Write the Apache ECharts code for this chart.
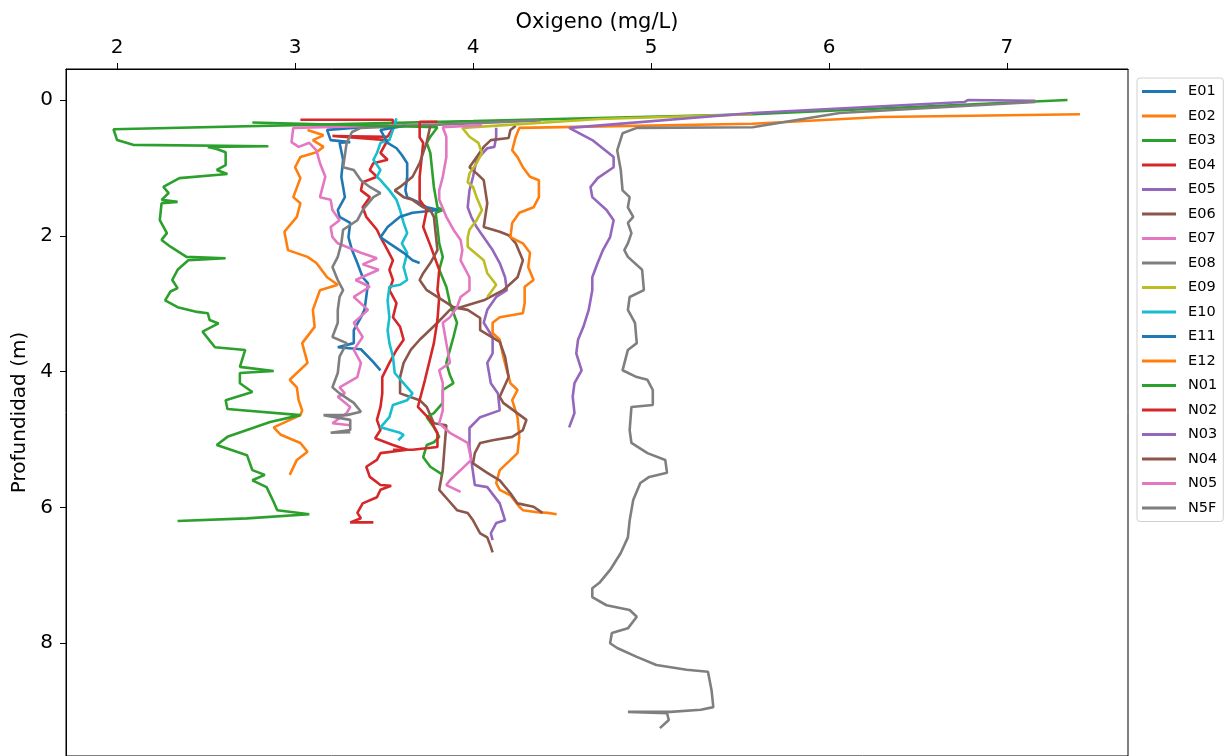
<!DOCTYPE html>
<html>
<head>
<meta charset="utf-8">
<script src="https://cdn.jsdelivr.net/npm/echarts@6/dist/echarts.min.js"></script>
<style>
html,body{margin:0;padding:0;background:#fff;}
#chart{width:1227px;height:756px;}
</style>
</head>
<body>
<div id="chart"></div>
<script>
// ---- data: [oxygen mg/L, depth m] ----
const seriesNames = ['E01','E02','E03','E04','E05','E06','E07','E08','E09','E10','E11','E12','N01','N02','N03','N04','N05','N5F'];
const xTicks = [2,3,4,5,6,7];
const yTicks = [0,2,4,6,8];

const e01 = [[3.12,0.37],[3.53,0.37],[3.18,0.44],[3.20,0.59],[3.31,0.62],[3.25,0.63],[3.27,0.88],[3.26,1.13],[3.28,1.43],[3.24,1.62],[3.25,1.72],[3.31,1.81],[3.30,2.02],[3.32,2.21],[3.35,2.40],[3.38,2.61],[3.41,2.70],[3.40,2.90],[3.39,3.09],[3.37,3.20],[3.33,3.39],[3.33,3.58],[3.24,3.64],[3.37,3.67],[3.44,3.86],[3.48,3.98]];
const e02 = [[3.07,0.44],[3.16,0.52],[3.10,0.59],[3.16,0.69],[3.12,0.77],[3.03,0.84],[3.00,0.99],[3.03,1.15],[3.01,1.29],[2.99,1.43],[3.03,1.52],[3.01,1.72],[2.94,1.94],[2.96,2.21],[3.07,2.31],[3.12,2.40],[3.18,2.61],[3.24,2.72],[3.14,2.80],[3.10,3.09],[3.11,3.34],[3.04,3.58],[3.07,3.87],[2.97,4.12],[3.01,4.23],[3.02,4.42],[3.04,4.57],[3.03,4.64],[2.88,4.82],[2.92,4.93],[3.03,5.05],[3.07,5.18],[3.01,5.30],[2.97,5.52]];
const e03 = [[7.34,0.00],[5.57,0.21],[4.00,0.31],[1.98,0.43],[2.00,0.59],[2.09,0.66],[2.85,0.68],[2.51,0.69],[2.56,0.72],[2.61,0.77],[2.61,0.96],[2.56,1.03],[2.62,1.09],[2.35,1.15],[2.26,1.28],[2.29,1.37],[2.25,1.47],[2.34,1.50],[2.25,1.52],[2.24,1.77],[2.28,1.96],[2.25,2.06],[2.30,2.16],[2.39,2.31],[2.61,2.33],[2.40,2.36],[2.34,2.50],[2.31,2.65],[2.34,2.77],[2.30,2.82],[2.27,2.95],[2.34,3.05],[2.45,3.12],[2.51,3.14],[2.52,3.24],[2.57,3.29],[2.51,3.37],[2.48,3.41],[2.55,3.64],[2.72,3.68],[2.69,3.93],[2.88,3.99],[2.69,4.02],[2.69,4.17],[2.76,4.30],[2.61,4.42],[2.62,4.55],[3.03,4.64],[2.86,4.74],[2.62,4.96],[2.56,5.08],[2.73,5.23],[2.76,5.45],[2.83,5.52],[2.76,5.60],[2.84,5.70],[2.88,5.92],[2.90,6.04],[3.08,6.10],[2.73,6.16],[2.34,6.20]];
const e04 = [[3.03,0.29],[3.55,0.29],[3.55,0.41],[3.52,0.54],[3.21,0.53],[3.52,0.59],[3.48,0.78],[3.52,0.88],[3.44,0.93],[3.42,1.03],[3.46,1.13],[3.38,1.21],[3.37,1.33],[3.42,1.43],[3.38,1.58],[3.40,1.72],[3.46,1.91],[3.48,2.02],[3.52,2.21],[3.55,2.36],[3.53,2.50],[3.55,2.65],[3.53,2.80],[3.57,2.99],[3.55,3.20],[3.59,3.34],[3.61,3.53],[3.57,3.68],[3.53,3.87],[3.49,4.08],[3.49,4.32],[3.48,4.52],[3.46,4.71],[3.48,4.86],[3.45,4.98],[3.55,5.08],[3.63,5.15],[3.48,5.20],[3.46,5.30],[3.40,5.40],[3.42,5.55],[3.48,5.67],[3.54,5.68],[3.48,5.74],[3.46,5.85],[3.38,5.94],[3.35,6.08],[3.37,6.16],[3.31,6.22],[3.44,6.22]];
const e05 = [[4.13,0.41],[4.13,0.54],[4.12,0.69],[4.08,0.71],[4.02,0.88],[4.00,1.13],[3.98,1.33],[3.97,1.58],[3.99,1.72],[4.02,1.87],[4.06,2.02],[4.11,2.21],[4.15,2.40],[4.18,2.61],[4.19,2.80],[4.13,2.90],[4.08,3.09],[4.06,3.28],[4.11,3.49],[4.11,3.73],[4.08,3.87],[4.10,4.17],[4.14,4.32],[4.15,4.57],[4.04,4.67],[3.98,4.83],[3.98,5.11],[3.99,5.30],[4.01,5.67],[4.08,5.70],[4.15,5.94],[4.18,6.19],[4.13,6.23],[4.10,6.38],[4.11,6.48]];
const e06 = [[4.24,0.38],[4.21,0.44],[4.20,0.56],[4.10,0.59],[4.06,0.69],[3.98,0.99],[4.02,1.08],[4.06,1.18],[4.08,1.52],[4.06,1.87],[4.15,1.94],[4.20,1.99],[4.24,2.11],[4.28,2.36],[4.25,2.61],[4.17,2.80],[4.06,2.95],[3.93,3.05],[3.87,3.09],[3.80,3.28],[3.74,3.43],[3.70,3.53],[3.65,3.68],[3.61,3.87],[3.59,4.08],[3.59,4.32],[3.70,4.42],[3.74,4.52],[3.78,4.76],[3.85,4.79],[3.84,5.11],[3.83,5.45],[3.81,5.74],[3.86,5.89],[3.91,6.04],[3.97,6.08],[4.00,6.19],[4.04,6.38],[4.08,6.44],[4.10,6.58],[4.11,6.66]];
const e07 = [[3.75,0.36],[2.99,0.41],[2.98,0.62],[3.02,0.69],[3.08,0.63],[3.12,0.74],[3.14,0.93],[3.17,1.13],[3.14,1.43],[3.20,1.47],[3.21,1.62],[3.25,1.77],[3.20,1.87],[3.21,2.02],[3.24,2.11],[3.37,2.25],[3.46,2.33],[3.38,2.42],[3.47,2.50],[3.34,2.65],[3.42,2.75],[3.33,2.90],[3.41,3.09],[3.33,3.28],[3.38,3.49],[3.33,3.68],[3.37,3.87],[3.35,4.08],[3.25,4.23],[3.28,4.32],[3.24,4.37],[3.31,4.52],[3.29,4.61],[3.21,4.76],[3.31,4.79]];
const e08 = [[4.38,0.30],[3.37,0.41],[3.32,0.47],[3.29,0.63],[3.27,0.99],[3.33,1.03],[3.37,1.18],[3.42,1.28],[3.48,1.37],[3.44,1.43],[3.38,1.62],[3.35,1.77],[3.31,1.84],[3.27,1.91],[3.26,2.11],[3.24,2.31],[3.21,2.46],[3.24,2.65],[3.27,2.80],[3.25,2.90],[3.24,3.09],[3.24,3.28],[3.21,3.49],[3.29,3.58],[3.25,3.78],[3.24,4.02],[3.21,4.23],[3.25,4.32],[3.33,4.46],[3.37,4.59],[3.29,4.64],[3.16,4.64],[3.31,4.71],[3.31,4.86],[3.20,4.90],[3.31,4.89]];
const e09 = [[5.57,0.21],[4.71,0.28],[3.94,0.41],[3.98,0.54],[4.03,0.63],[4.05,0.78],[4.02,0.93],[3.98,1.08],[3.97,1.21],[4.00,1.28],[4.02,1.43],[4.05,1.62],[4.02,1.77],[3.98,1.91],[3.97,2.02],[3.97,2.16],[4.06,2.36],[4.08,2.55],[4.11,2.65],[4.13,2.72],[4.10,2.83],[4.08,2.90]];
const e10 = [[3.57,0.27],[3.55,0.44],[3.53,0.59],[3.48,0.63],[3.46,0.78],[3.44,0.88],[3.48,1.03],[3.46,1.13],[3.48,1.18],[3.53,1.33],[3.57,1.47],[3.59,1.62],[3.61,1.81],[3.63,1.96],[3.60,2.11],[3.63,2.25],[3.61,2.46],[3.63,2.65],[3.59,2.72],[3.53,2.75],[3.52,2.95],[3.53,3.20],[3.52,3.39],[3.53,3.58],[3.55,3.78],[3.56,4.02],[3.63,4.23],[3.66,4.32],[3.63,4.42],[3.55,4.49],[3.53,4.67],[3.48,4.82],[3.59,4.90],[3.61,4.93],[3.58,5.01]];
const e11 = [[3.62,0.38],[3.48,0.44],[3.52,0.63],[3.57,0.71],[3.60,0.81],[3.63,0.93],[3.63,1.13],[3.62,1.33],[3.63,1.43],[3.69,1.50],[3.74,1.58],[3.81,1.62],[3.66,1.66],[3.59,1.72],[3.52,1.87],[3.48,2.02],[3.53,2.11],[3.61,2.25],[3.66,2.36],[3.70,2.40]];
const e12 = [[7.41,0.21],[6.29,0.25],[5.57,0.35],[4.26,0.41],[4.24,0.54],[4.22,0.74],[4.25,0.84],[4.28,0.99],[4.32,1.13],[4.37,1.18],[4.37,1.43],[4.34,1.58],[4.26,1.66],[4.22,1.81],[4.21,2.02],[4.24,2.06],[4.28,2.11],[4.32,2.25],[4.31,2.46],[4.34,2.65],[4.29,2.75],[4.29,2.99],[4.28,3.14],[4.15,3.20],[4.11,3.28],[4.11,3.43],[4.15,3.53],[4.17,3.78],[4.19,3.98],[4.21,4.17],[4.25,4.27],[4.22,4.42],[4.25,4.67],[4.26,4.96],[4.25,5.20],[4.19,5.35],[4.15,5.45],[4.13,5.64],[4.15,5.74],[4.21,5.82],[4.26,5.99],[4.28,6.04],[4.36,6.07],[4.42,6.08],[4.47,6.10]];
const n01 = [[2.76,0.33],[3.80,0.40],[3.76,0.54],[3.74,0.63],[3.76,0.78],[3.77,1.03],[3.78,1.28],[3.80,1.58],[3.83,1.62],[3.79,1.66],[3.80,1.87],[3.81,2.11],[3.83,2.31],[3.81,2.50],[3.85,2.75],[3.87,2.99],[3.91,3.28],[3.89,3.49],[3.87,3.68],[3.85,3.87],[3.87,4.05],[3.89,4.17],[3.83,4.27],[3.83,4.46],[3.78,4.61],[3.74,4.67],[3.78,4.82],[3.81,4.96],[3.78,5.04],[3.74,5.08],[3.72,5.26],[3.76,5.40],[3.83,5.52]];
const n02 = [[3.80,0.32],[3.70,0.32],[3.70,0.55],[3.72,0.63],[3.70,1.13],[3.70,1.47],[3.74,1.62],[3.72,1.87],[3.76,2.14],[3.81,2.50],[3.80,2.80],[3.81,2.90],[3.80,3.24],[3.78,3.58],[3.73,4.12],[3.69,4.52],[3.76,4.71],[3.80,4.90],[3.80,5.11],[3.66,5.15],[3.55,5.15]];
const n03 = [[7.16,0.01],[6.78,0.00],[6.76,0.03],[5.57,0.19],[4.54,0.41],[4.67,0.59],[4.79,0.84],[4.79,0.99],[4.70,1.15],[4.66,1.28],[4.67,1.43],[4.75,1.62],[4.79,1.77],[4.77,2.02],[4.73,2.21],[4.70,2.40],[4.67,2.61],[4.67,2.80],[4.65,3.09],[4.62,3.34],[4.59,3.53],[4.58,3.73],[4.61,3.98],[4.57,4.17],[4.56,4.37],[4.57,4.61],[4.54,4.82]];
const n04 = [[3.76,0.38],[3.74,0.62],[3.70,0.93],[3.66,1.13],[3.59,1.28],[3.56,1.33],[3.61,1.43],[3.66,1.47],[3.72,1.58],[3.76,1.62],[3.78,1.72],[3.80,2.21],[3.76,2.40],[3.72,2.55],[3.70,2.65],[3.74,2.80],[3.80,2.90],[3.89,3.05],[3.97,3.09],[4.04,3.21],[4.04,3.39],[4.15,3.56],[4.18,3.78],[4.20,4.08],[4.15,4.37],[4.17,4.46],[4.30,4.71],[4.28,4.86],[4.22,4.96],[4.11,5.01],[4.04,5.05],[4.01,5.20],[4.00,5.35],[4.08,5.49],[4.15,5.60],[4.21,5.79],[4.25,5.94],[4.34,5.99],[4.39,6.08]];
const n05 = [[4.05,0.37],[3.83,0.40],[3.85,0.54],[3.85,0.84],[3.83,1.13],[3.81,1.33],[3.81,1.47],[3.85,1.72],[3.89,1.91],[3.93,2.06],[3.94,2.21],[3.93,2.36],[3.98,2.61],[3.98,2.80],[3.93,2.90],[3.91,3.05],[3.87,3.20],[3.83,3.28],[3.85,3.58],[3.87,3.87],[3.81,3.98],[3.83,4.17],[3.83,4.37],[3.83,4.57],[3.81,4.76],[3.87,4.90],[3.97,5.05],[3.99,5.30],[3.93,5.45],[3.87,5.60],[3.85,5.67],[3.93,5.77]];
const n5f = [[7.16,0.03],[6.06,0.19],[5.57,0.40],[4.92,0.41],[4.84,0.49],[4.81,0.74],[4.83,1.03],[4.84,1.33],[4.88,1.43],[4.87,1.58],[4.90,1.72],[4.87,1.81],[4.89,1.96],[4.87,2.11],[4.85,2.21],[4.87,2.31],[4.95,2.50],[4.96,2.80],[4.88,2.90],[4.87,3.09],[4.91,3.28],[4.92,3.58],[4.87,3.68],[4.84,3.98],[4.92,4.08],[4.98,4.12],[5.01,4.27],[5.01,4.49],[4.89,4.52],[4.88,4.86],[4.89,5.05],[4.98,5.20],[5.08,5.30],[5.09,5.49],[4.99,5.55],[4.94,5.64],[4.90,5.89],[4.88,6.19],[4.87,6.44],[4.83,6.67],[4.77,6.92],[4.71,7.11],[4.67,7.19],[4.67,7.32],[4.75,7.44],[4.88,7.51],[4.92,7.61],[4.87,7.78],[4.78,7.85],[4.77,8.00],[4.81,8.07],[4.92,8.20],[5.03,8.32],[5.20,8.39],[5.32,8.42],[5.34,8.69],[5.35,8.94],[5.28,8.98],[5.11,9.01],[4.87,9.01],[5.09,9.03],[5.10,9.13],[5.05,9.25]];

const seriesData = [e01,e02,e03,e04,e05,e06,e07,e08,e09,e10,e11,e12,n01,n02,n03,n04,n05,n5f];
const palette = ['#1f77b4','#ff7f0e','#2ca02c','#d62728','#9467bd','#8c564b','#e377c2','#7f7f7f','#bcbd22','#17becf','#1f77b4','#ff7f0e','#2ca02c','#d62728','#9467bd','#8c564b','#e377c2','#7f7f7f'];

const FONT = 'DejaVu Sans';
const chart = echarts.init(document.getElementById('chart'), null, {renderer:'canvas'});
chart.setOption({
  animation: false,
  backgroundColor: '#fff',
  textStyle: {fontFamily: FONT},
  grid: {left: 66, right: 99, top: 69, bottom: -1, show: true, borderColor: '#000', borderWidth: 1, backgroundColor: 'transparent'},
  legend: {
    orient: 'vertical', left: 1137, top: 78,
    padding: [6, 6, 6, 5],
    itemWidth: 34, itemHeight: 3, itemGap: 9.5,
    icon: 'rect',
    data: seriesNames,
    textStyle: {fontSize: 14.5, color: '#000', fontFamily: FONT, lineHeight: 14, padding: [0,0,0,7]},
    borderColor: '#d0d0d0', borderWidth: 1, borderRadius: 3, backgroundColor: '#fff'
  },
  xAxis: {
    type: 'value', position: 'top', min: 1.713, max: 7.68,
    name: 'Oxigeno (mg/L)', nameLocation: 'middle', nameGap: 32,
    nameTextStyle: {fontSize: 21, color: '#000', fontFamily: FONT},
    axisLine: {show: true, onZero: false, lineStyle: {color: '#000', width: 1}},
    axisTick: {show: true, inside: false, length: 6, customValues: xTicks, lineStyle: {color: '#000'}},
    axisLabel: {customValues: xTicks, fontSize: 20, color: '#000', margin: 11, fontFamily: FONT},
    splitLine: {show: false}
  },
  yAxis: {
    type: 'value', inverse: true, min: -0.457, max: 9.66,
    name: 'Profundidad (m)', nameLocation: 'middle', nameGap: 32,
    nameTextStyle: {fontSize: 20, color: '#000', fontFamily: FONT},
    axisLine: {show: true, onZero: false, lineStyle: {color: '#000', width: 1}},
    axisTick: {show: true, inside: false, length: 6, customValues: yTicks, lineStyle: {color: '#000'}},
    axisLabel: {customValues: yTicks, fontSize: 20, color: '#000', margin: 13, fontFamily: FONT},
    splitLine: {show: false}
  },
  series: seriesNames.map((name, i) => ({
    name: name, type: 'line', data: seriesData[i],
    symbol: 'none', showSymbol: false, clip: true,
    lineStyle: {width: 2.6, color: palette[i]},
    itemStyle: {color: palette[i]},
    emphasis: {disabled: true}
  }))
});
</script>
</body>
</html>
